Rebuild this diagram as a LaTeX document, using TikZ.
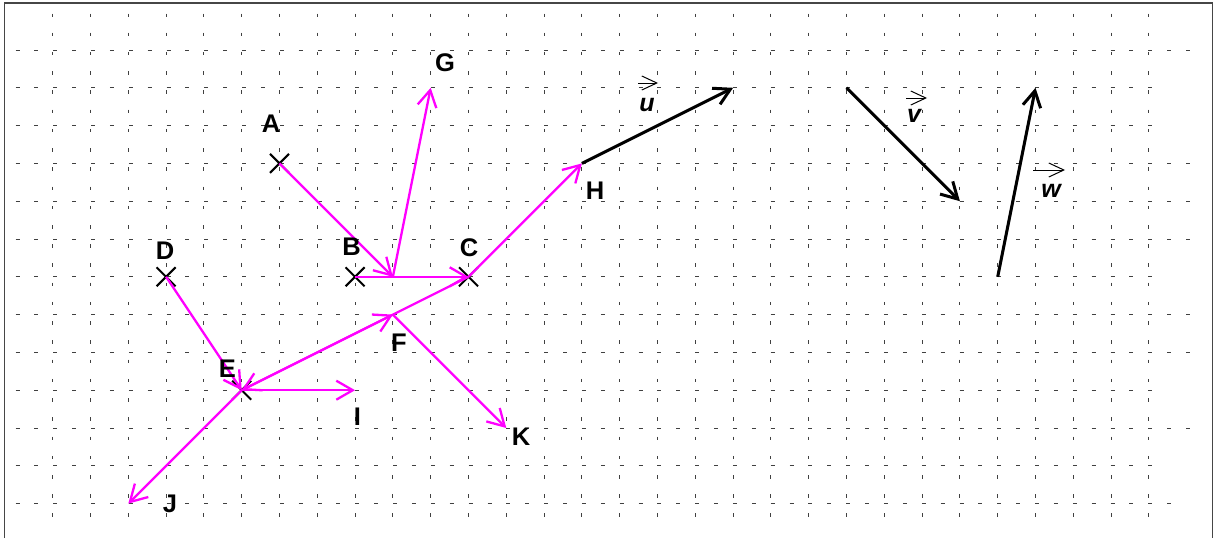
\documentclass[tikz,border=0pt]{standalone}
\usepackage{fontspec}
\setmainfont{Liberation Sans}
\usetikzlibrary{arrows.meta,shapes.misc,calc}
\definecolor{mag}{RGB}{255,0,255}
\definecolor{framegray}{RGB}{70,70,70}
\begin{document}
\begin{tikzpicture}[x=1pt,y=-1pt,
  every node/.style={inner sep=0pt,outer sep=0pt},
  ptlabel/.style={font=\fontsize{25.5}{25.5}\selectfont\bfseries},
  veclabel/.style={font=\fontsize{25}{25}\selectfont\bfseries\itshape},
  gridv/.style={line width=1pt,black!75,dash pattern=on 3.5pt off 15.73pt},
  gridh/.style={line width=1pt,black!75,dash pattern=on 4pt off 14.88pt},
  marrow/.style={line width=2.3pt,mag,-{Straight Barb[length=16.5pt,width=19pt]}},
  karrow/.style={line width=3pt,black,-{Straight Barb[length=16pt,width=18pt]}},
  overarrow/.style={line width=1pt,black,-{Straight Barb[length=15pt,width=14pt]}},
  crossmark/.style={draw,cross out,line width=2pt,minimum size=19pt},
  frameline/.style={line width=1.8pt,framegray}]
\useasboundingbox (0,0) rectangle (1214,538);
% frame
\draw[frameline] (4.5,538) -- (4.5,3) -- (1212.5,3) -- (1212.5,538);
% grid
\foreach \k in {0,...,29}
  \draw[gridv] ({52.7+37.8*\k},13.5) -- ({52.7+37.8*\k},517);
\foreach \j/\e in {0/1190,1/1152,2/1152,3/1190,4/1190,5/1190,6/1152,7/1190,8/1190,9/1152,10/1190,11/1152,12/1171}
  \draw[gridh] (15.5,{50+37.8*\j}) -- (\e,{50+37.8*\j});
% points
\begin{scope}[shift={(52.7pt,-50pt)},x=37.8pt,y=-37.8pt]
  \coordinate (A) at (6,3);
  \coordinate (B) at (8,6);
  \coordinate (C) at (11,6);
  \coordinate (D) at (3,6);
  \coordinate (E) at (5,9);
  \coordinate (F) at (9,7);
  \coordinate (G) at (10,1);
  \coordinate (H) at (14,3);
  \coordinate (I) at (8,9);
  \coordinate (J) at (2,12);
  \coordinate (K) at (12,10);
  \coordinate (P) at (9,6);
  \coordinate (U) at (18,1);
  \coordinate (V1) at (21,1);
  \coordinate (V2) at (24,4);
  \coordinate (W1) at (25,6);
  \coordinate (W2) at (26,1);
\end{scope}
% crosses
\foreach \p in {A,B,C,D,E}
  \node[crossmark] (x\p) at (\p) {};
% magenta vectors
\draw[marrow] (A) -- (P);
\draw[marrow] (P) -- (G);
\draw[marrow] (B) -- (C);
\draw[marrow] (C) -- (H);
\draw[marrow] (C) -- (E);
\draw[marrow] (E) -- (F);
\draw[marrow] (D) -- (E);
\draw[marrow] (E) -- (I);
\draw[marrow] (E) -- (J);
\draw[marrow] (F) -- (K);
% black vectors
\draw[karrow] (H) -- (U);
\draw[karrow] (V1) -- (V2);
\draw[karrow] (W1) -- (W2);
% point labels
\node[ptlabel] (lA) at (271,124) {A};
\node[ptlabel] (lB) at (351.5,246.5) {B};
\node[ptlabel] (lC) at (469,248) {C};
\node[ptlabel] (lD) at (165,250.5) {D};
\node[ptlabel] (lE) at (227.5,369) {E};
\node[ptlabel] (lF) at (399,343) {F};
\node[ptlabel] (lG) at (445,63) {G};
\node[ptlabel] (lH) at (595,191) {H};
\node[ptlabel] (lI) at (357.5,417) {I};
\node[ptlabel] (lJ) at (170,504) {J};
\node[ptlabel] (lK) at (521,437) {K};
% vector labels
\node[veclabel] (lu) at (647,105) {u};
\draw[overarrow] ($(lu.center)+(-9,-22)$) -- ($(lu.center)+(11,-22)$);
\node[veclabel] (lv) at (914,116) {v};
\draw[overarrow] ($(lv.center)+(-8,-18)$) -- ($(lv.center)+(13,-18)$);
\node[veclabel] (lw) at (1051,191) {w};
\draw[overarrow] ($(lw.center)+(-18,-21)$) -- ($(lw.center)+(14,-21)$);
\end{tikzpicture}
\end{document}
